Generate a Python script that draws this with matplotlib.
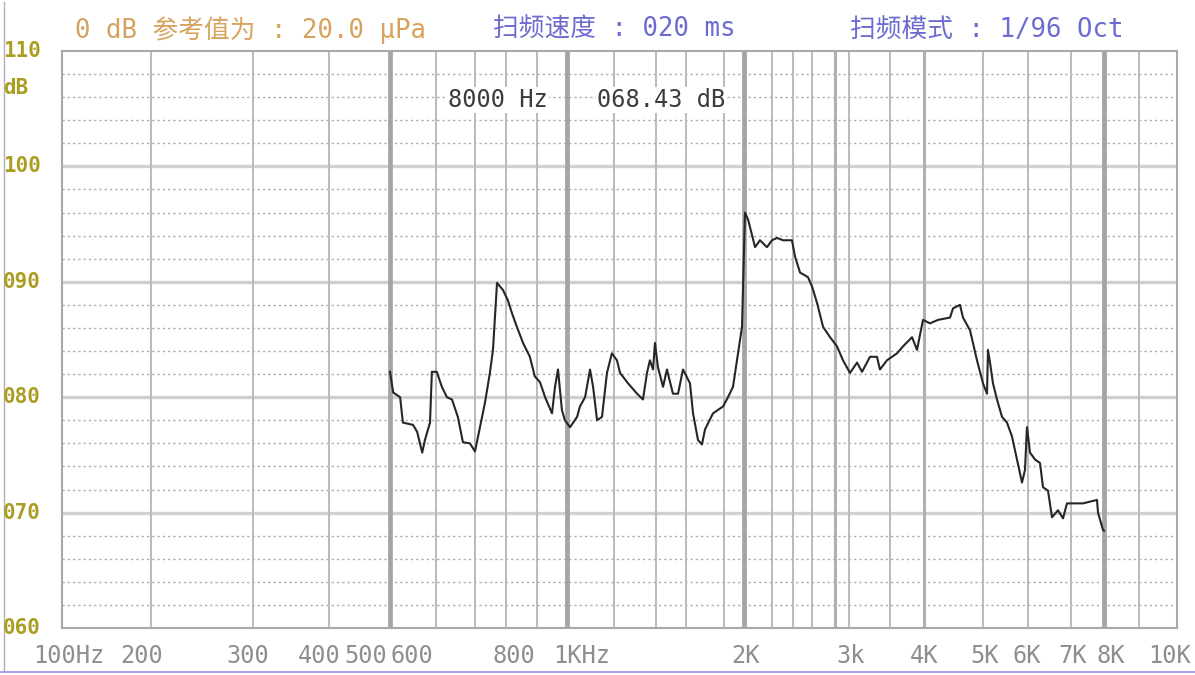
import matplotlib
matplotlib.use("Agg")
import matplotlib.pyplot as plt
import numpy as np

# analyser grid frequencies and where the instrument draws them (screen px, not log)
GRID_HZ = [100, 200, 300, 400, 500, 600, 700, 800, 900, 1000, 1200, 1400, 1600, 1800,
           2000, 2200, 2400, 2600, 2800, 3000, 3500, 4000, 5000, 6000, 7000, 8000, 9000, 10000]
GRID_PX = [62, 151, 253, 329, 390, 436, 475, 506, 537, 567, 614, 656, 686, 724,
           744, 772, 793, 812, 835, 849, 890, 924, 983, 1028, 1071, 1104, 1139, 1177]
HEAVY_HZ = [500, 1000, 2000, 8000]
MEDIUM_HZ = [2800, 4000]

X_LABELS = ["100Hz", "200", "300", "400", "500", "600", "800", "1KHz",
            "2K", "3k", "4K", "5K", "6K", "7K", "8K", "10K"]
X_LABEL_LEFT = [33, 120, 226, 298, 344, 390, 493, 553,
                731, 836, 910, 970, 1013, 1058, 1096, 1148]
Y_TICKS = [110, 100, 90, 80, 70, 60]
Y_LABELS = ["110", "100", "090", "080", "070", "060"]

# measured response, 1/96 oct sweep
FREQ_HZ = [500, 507, 522, 528, 550, 559, 570, 576, 587, 591, 602, 615, 628, 641, 656,
           669, 687, 700, 716, 732, 748, 758, 771, 790, 806, 819, 835, 855, 877, 893,
           910, 927, 950, 960, 970, 983, 993, 1013, 1043, 1055, 1077, 1098, 1111, 1128,
           1149, 1170, 1191, 1214, 1229, 1267, 1310, 1338, 1357, 1371, 1386, 1395, 1413,
           1447, 1473, 1513, 1547, 1580, 1621, 1637, 1663, 1684, 1700, 1742, 1795, 1840,
           1890, 1940, 1980, 2007, 2029, 2079, 2114, 2164, 2200, 2248, 2305, 2390, 2421,
           2474, 2558, 2600, 2643, 2696, 2757, 2829, 2914, 3012, 3098, 3159, 3256, 3341,
           3378, 3463, 3603, 3691, 3824, 3897, 3985, 4102, 4237, 4441, 4492, 4610, 4661,
           4780, 4898, 5000, 5089, 5111, 5156, 5222, 5311, 5422, 5533, 5644, 5756, 5867,
           5933, 5977, 6047, 6163, 6279, 6349, 6465, 6558, 6698, 6814, 6907, 7182, 7364,
           7788, 7818, 7970, 8000]
LEVEL_DB = [82.2, 80.4, 80.0, 77.8, 77.6, 77.0, 75.2, 76.3, 77.8, 82.2, 82.2, 80.9, 80.0,
            79.8, 78.3, 76.1, 76.0, 75.3, 77.4, 79.5, 82.1, 84.1, 89.9, 89.3, 88.4, 87.3,
            86.1, 84.7, 83.5, 81.8, 81.3, 80.0, 78.6, 80.9, 82.4, 78.9, 78.0, 77.4, 78.3,
            79.2, 80.0, 82.4, 80.9, 78.0, 78.3, 82.1, 83.8, 83.2, 82.1, 81.2, 80.3, 79.8,
            82.1, 83.2, 82.4, 84.7, 82.6, 80.9, 82.4, 80.3, 80.3, 82.4, 81.2, 78.6, 76.3,
            75.9, 77.2, 78.6, 79.2, 80.0, 80.9, 83.8, 86.1, 96.0, 95.4, 93.0, 93.6, 93.0,
            93.6, 93.8, 93.6, 93.6, 92.2, 90.8, 90.4, 89.6, 88.2, 86.1, 85.2, 84.4, 83.2,
            82.1, 83.0, 82.2, 83.5, 83.5, 82.4, 83.2, 83.8, 84.4, 85.2, 84.1, 86.7, 86.4,
            86.7, 86.9, 87.7, 88.0, 86.9, 85.8, 83.2, 81.2, 80.3, 84.1, 83.0, 81.2, 79.8,
            78.3, 77.8, 76.6, 74.6, 72.6, 73.7, 77.4, 75.2, 74.6, 74.3, 72.2, 71.9, 69.6,
            70.2, 69.5, 70.8, 70.8, 70.8, 71.1, 70.0, 68.5, 68.43]

W, H = 1195, 675
MONO = ["DejaVu Sans Mono", "Noto Sans CJK SC"]


def fx(px):
    return px / W


def fy(py):
    return 1 - py / H


# piecewise scale so the grid lands where the analyser draws it
_t = (np.array(GRID_PX) - GRID_PX[0]) / (GRID_PX[-1] - GRID_PX[0])


def forward(f):
    return np.interp(f, GRID_HZ, _t)


def inverse(t):
    return np.interp(t, _t, GRID_HZ)


fig = plt.figure(figsize=(W / 100, H / 100), dpi=100)
ax = fig.add_axes([fx(62), fy(628), fx(1177) - fx(62), fy(51) - fy(628)])
ax.set_xscale("function", functions=(forward, inverse))
ax.set_xlim(100, 10000)
ax.set_ylim(60, 110)
ax.set_xticks([])
ax.set_yticks([])
ax.minorticks_off()
for s in ax.spines.values():
    s.set_color("#a8a8a8")
    s.set_linewidth(1.5)

# horizontal grid: solid every 10 dB, dotted every 2 dB
for db in range(62, 110, 2):
    if db % 10 == 0:
        ax.axhline(db, color="#d0d0d0", lw=2.4, zorder=1)
    else:
        ax.axhline(db, color="#acacac", lw=1.0, ls=(0, (1.6, 2.2)), zorder=1)

# vertical grid
for f in GRID_HZ[1:-1]:
    if f in HEAVY_HZ:
        ax.axvline(f, color="#a4a4a4", lw=3.4, zorder=1)
    elif f in MEDIUM_HZ:
        ax.axvline(f, color="#b0b0b0", lw=2.2, zorder=1)
    else:
        ax.axvline(f, color="#bababa", lw=1.4, zorder=1)

ax.plot(FREQ_HZ, LEVEL_DB, color="#262626", lw=1.5, zorder=3)

# cursor readout
ax.text(0.346, 0.915, "8000 Hz", transform=ax.transAxes, family=MONO, fontsize=17,
        color="#3c3c3c", ha="left", va="center", zorder=4,
        bbox=dict(facecolor="white", edgecolor="none", pad=1))
ax.text(0.480, 0.915, "068.43 dB", transform=ax.transAxes, family=MONO, fontsize=17,
        color="#3c3c3c", ha="left", va="center", zorder=4,
        bbox=dict(facecolor="white", edgecolor="none", pad=1))

# y labels
y_to_px = lambda db: 51 + (110 - db) * (628 - 51) / 50
for db, lab in zip(Y_TICKS, Y_LABELS):
    fig.text(fx(3), fy(y_to_px(db)), lab, family=MONO, fontsize=15, weight="bold",
             color="#aa9e22", ha="left", va="center")
fig.text(fx(3), fy(88), "dB", family=MONO, fontsize=15, weight="bold",
         color="#aa9e22", ha="left", va="center")

# x labels
for lab, left in zip(X_LABELS, X_LABEL_LEFT):
    fig.text(fx(left), fy(656), lab, family=MONO, fontsize=17,
             color="#8e8e8e", ha="left", va="center")

# header line
fig.text(fx(75), fy(30), "0 dB 参考值为 : 20.0 μPa", family=MONO, fontsize=18.5,
         color="#d6a35e", ha="left", va="center")
fig.text(fx(493), fy(30), "扫频速度 : 020 ms", family=MONO, fontsize=18.5,
         color="#6b6bd0", ha="left", va="center")
fig.text(fx(850), fy(30), "扫频模式 : 1/96 Oct", family=MONO, fontsize=18.5,
         color="#6b6bd0", ha="left", va="center")

# screen borders
fig.add_artist(plt.Line2D([fx(4), fx(4)], [fy(2), fy(672)], color="#b0b0b0", lw=1))
fig.add_artist(plt.Line2D([0, 1], [fy(672), fy(672)], color="#a8a8e8", lw=1.5))

fig.savefig("out.png", dpi=100)
